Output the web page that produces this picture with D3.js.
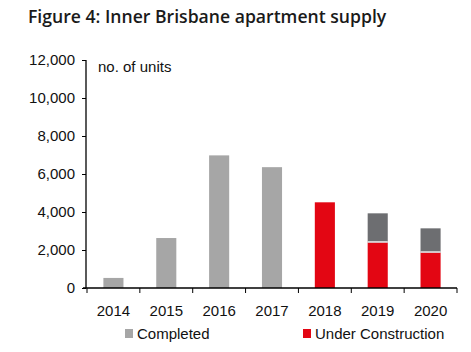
<!DOCTYPE html>
<html>
<head>
<meta charset="utf-8">
<script src="https://cdn.jsdelivr.net/npm/d3@7"></script>
<style>
body{margin:0;background:#fff;}
svg{display:block;}
</style>
</head>
<body>
<svg id="drawing_region"></svg>
<script>
const years = ["2014","2015","2016","2017","2018","2019","2020"];
const completed = [530, 2630, 6980, 6360, 0, 0, 0];
const underConstruction = [0, 0, 0, 0, 4510, 2400, 1870];
const other = [0, 0, 0, 0, 0, 1530, 1270];
const yTicks = [0, 2000, 4000, 6000, 8000, 10000, 12000];

const width = 471, height = 352;
const margin = {top:60, left:87, right:14, bottom:64};

const svg = d3.select("#drawing_region")
    .attr("width", width)
    .attr("height", height);

svg.append("text")
    .attr("x", 28)
    .attr("y", 23)
    .attr("font-family", "'Open Sans', sans-serif")
    .attr("font-weight", 600)
    .attr("font-size", "17.6px")
    .attr("fill", "#1a1a1a")
    .text("Figure 4: Inner Brisbane apartment supply");

const xscale = d3.scaleBand()
    .domain(years)
    .range([margin.left, width - margin.right])
    .paddingInner(0.62)
    .paddingOuter(0.31);

const yscale = d3.scaleLinear()
    .domain([0, 12000])
    .range([height - margin.bottom, margin.top]);

const rows = years.map((y, i) => ({year:y, completed:completed[i], uc:underConstruction[i], other:other[i]}));
const stack = d3.stack().keys(["completed","uc","other"])(rows);
const colors = {completed:"#a6a6a6", uc:"#e30613", other:"#6d6e71"};

const chart = svg.append("g");
stack.forEach(layer => {
    chart.selectAll(null)
        .data(layer.filter(d => d[1] > d[0]))
        .enter()
        .append("rect")
        .attr("x", d => xscale(d.data.year))
        .attr("width", xscale.bandwidth())
        .attr("y", d => yscale(d[1]))
        .attr("height", d => yscale(d[0]) - yscale(d[1]))
        .attr("fill", colors[layer.key]);
});
// white separator between stacked segments
chart.selectAll(null)
    .data(rows.filter(d => d.other > 0))
    .enter()
    .append("line")
    .attr("x1", d => xscale(d.year))
    .attr("x2", d => xscale(d.year) + xscale.bandwidth())
    .attr("y1", d => yscale(d.uc) - 0.5)
    .attr("y2", d => yscale(d.uc) - 0.5)
    .attr("stroke", "#fff")
    .attr("stroke-width", 1.2);

const font = "'Liberation Sans', Arial, sans-serif";

const yaxis = d3.axisLeft(yscale)
    .tickValues(yTicks)
    .tickFormat(d3.format(","))
    .tickSize(4)
    .tickPadding(7);
const yg = svg.append("g")
    .attr("transform", `translate(${margin.left - 1},0)`)
    .call(yaxis);

const xaxis = d3.axisBottom(xscale).tickSize(0).tickPadding(17);
const xg = svg.append("g")
    .attr("transform", `translate(0,${height - margin.bottom})`)
    .call(xaxis);
// ticks between categories
xg.selectAll(".sep")
    .data(d3.range(years.length + 1))
    .enter()
    .append("line")
    .attr("x1", i => margin.left + i * xscale.step())
    .attr("x2", i => margin.left + i * xscale.step())
    .attr("y1", 0)
    .attr("y2", 5)
    .attr("stroke", "#000");

[yg, xg].forEach(g => {
    g.selectAll("text").attr("font-family", font).attr("font-size", "15px").attr("fill", "#111");
    g.selectAll("line").attr("stroke", "#000");
    g.select(".domain").attr("stroke", "#000").attr("stroke-width", 1.3);
});
xg.select(".domain").attr("d", `M${margin.left - 4},0H${width - margin.right}`);
yg.select(".domain").attr("d", `M0,${margin.top}V${height - margin.bottom}`);

svg.append("text")
    .attr("x", 98)
    .attr("y", 72)
    .attr("font-family", font)
    .attr("font-size", "15px")
    .attr("fill", "#111")
    .text("no. of units");

const legend = [
    {label:"Completed", color:colors.completed, x:125},
    {label:"Under Construction", color:colors.uc, x:303}
];
const lg = svg.selectAll(".legend")
    .data(legend)
    .enter()
    .append("g")
    .attr("transform", d => `translate(${d.x},329)`);
lg.append("rect")
    .attr("width", 8)
    .attr("height", 9)
    .attr("fill", d => d.color);
lg.append("text")
    .attr("x", 12)
    .attr("y", 10)
    .attr("font-family", font)
    .attr("font-size", "15px")
    .attr("fill", "#111")
    .text(d => d.label);
</script>
</body>
</html>
